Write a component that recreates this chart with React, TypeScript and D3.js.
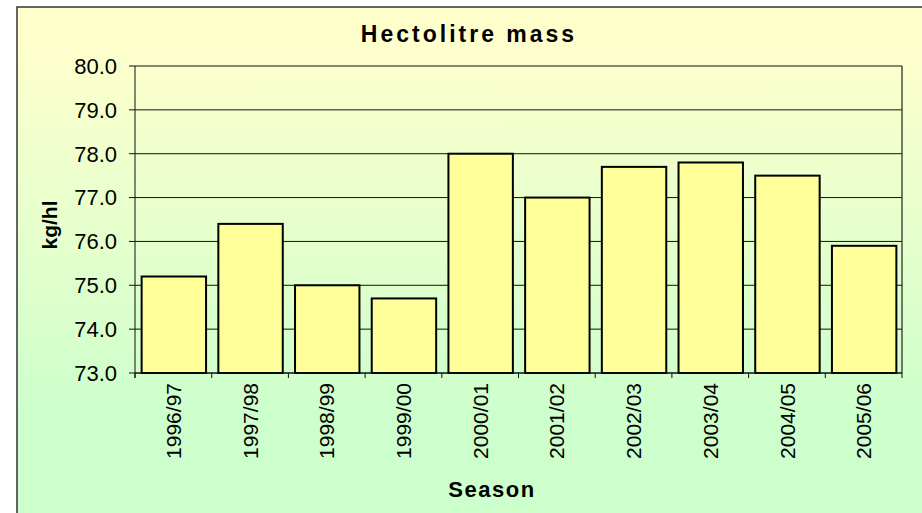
import React from "react";
import * as d3 from "d3";

const seasons = ["1996/97", "1997/98", "1998/99", "1999/00", "2000/01", "2001/02", "2002/03", "2003/04", "2004/05", "2005/06"];
const massValues = [75.2, 76.4, 75.0, 74.7, 78.0, 77.0, 77.7, 77.8, 77.5, 75.9];
const yTicks = [73, 74, 75, 76, 77, 78, 79, 80];
const chartTitle = "Hectolitre mass";
const xTitle = "Season";
const yTitle = "kg/hl";

const W = 922;
const H = 513;
const plot = { left: 135, top: 66, right: 902, bottom: 373 };
const FONT = "'Liberation Sans', Arial, Helvetica, sans-serif";

export default function App() {
  const x = d3.scaleBand<string>().domain(seasons).range([plot.left, plot.right]).padding(0);
  const y = d3.scaleLinear().domain([73, 80]).range([plot.bottom, plot.top]);
  const bw = x.bandwidth();
  const barW = bw * 0.84;

  return (
    <svg width={W} height={H} style={{ position: "absolute", left: 0, top: 0, display: "block" }} fontFamily={FONT}>
      <defs>
        <linearGradient id="bg" gradientUnits="userSpaceOnUse" x1="0" y1="40" x2="0" y2="420">
          <stop offset="0" stopColor="#FFFFCC" />
          <stop offset="1" stopColor="#CCFFCC" />
        </linearGradient>
      </defs>
      <rect x={0} y={0} width={W} height={H} fill="#fff" />
      <rect x={17} y={7} width={W + 20} height={H + 20} fill="url(#bg)" stroke="#333" strokeWidth={1.5} />

      {/* gridlines */}
      {yTicks.map((t) => (
        <line key={"g" + t} x1={plot.left} x2={plot.right} y1={y(t)} y2={y(t)} stroke="#111" strokeWidth={1} />
      ))}
      {/* right border of plot */}
      <line x1={plot.right} x2={plot.right} y1={plot.top} y2={plot.bottom} stroke="#222" strokeWidth={1.2} />

      {/* bars */}
      {seasons.map((s, i) => (
        <rect
          key={s}
          x={(x(s) as number) + (bw - barW) / 2 + 0.5}
          y={y(massValues[i])}
          width={barW}
          height={y(73) - y(massValues[i])}
          fill="#FFFF99"
          stroke="#000"
          strokeWidth={2}
        />
      ))}

      {/* y axis */}
      <line x1={plot.left} x2={plot.left} y1={plot.top} y2={plot.bottom + 5} stroke="#111" strokeWidth={1} />
      {yTicks.map((t) => (
        <g key={"t" + t}>
          <line x1={plot.left - 6} x2={plot.left} y1={y(t)} y2={y(t)} stroke="#111" strokeWidth={1} />
          <text x={117} y={y(t)} dy="0.36em" textAnchor="end" fontSize={22} fill="#000">
            {t.toFixed(1)}
          </text>
        </g>
      ))}

      {/* x axis */}
      <line x1={plot.left} x2={plot.right} y1={plot.bottom} y2={plot.bottom} stroke="#111" strokeWidth={1} />
      {seasons.map((s, i) => (
        <line key={"xt" + s} x1={(x(s) as number)} x2={(x(s) as number)} y1={plot.bottom} y2={plot.bottom + 5} stroke="#111" strokeWidth={1} />
      ))}
      <line x1={plot.right} x2={plot.right} y1={plot.bottom} y2={plot.bottom + 5} stroke="#111" strokeWidth={1} />
      {seasons.map((s) => {
        const cx = (x(s) as number) + bw / 2;
        return (
          <text key={"xl" + s} transform={`translate(${cx},383) rotate(-90)`} dy="0.36em" textAnchor="end" fontSize={21} fill="#000">
            {s}
          </text>
        );
      })}

      {/* titles */}
      <text x={469} y={41.5} textAnchor="middle" fontSize={23} fontWeight="bold" letterSpacing={3} fill="#000">
        {chartTitle}
      </text>
      <text x={492} y={497} textAnchor="middle" fontSize={22} fontWeight="bold" letterSpacing={1.5} fill="#000">
        {xTitle}
      </text>
      <text transform="translate(57,225) rotate(-90)" textAnchor="middle" fontSize={21} fontWeight="bold" fill="#000">
        {yTitle}
      </text>
    </svg>
  );
}
